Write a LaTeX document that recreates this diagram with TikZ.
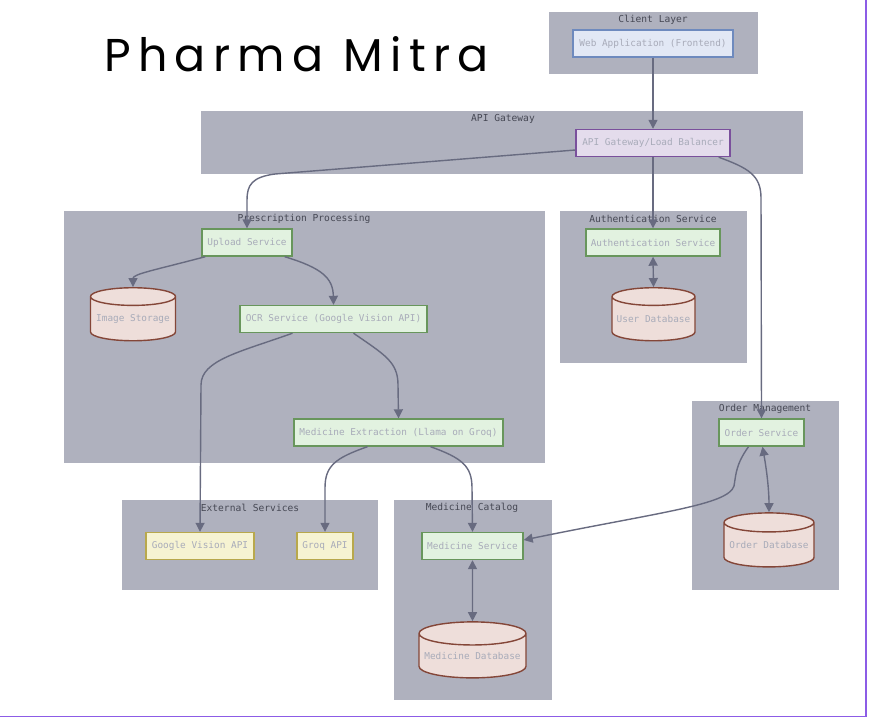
\documentclass[tikz,border=0pt]{standalone}
\usepackage{fontspec}
\setmonofont{DejaVu Sans Mono}
\newfontfamily\titlefont[LetterSpace=16]{Poppins}
\usetikzlibrary{arrows.meta,shapes.geometric}
\definecolor{clfill}{RGB}{175,177,190}
\definecolor{cllabel}{RGB}{70,72,84}
\definecolor{ntext}{RGB}{168,171,185}
\definecolor{edge}{RGB}{104,107,128}
\definecolor{bluefill}{RGB}{226,232,245}
\definecolor{blueline}{RGB}{110,138,190}
\definecolor{purpfill}{RGB}{228,220,236}
\definecolor{purpline}{RGB}{122,80,156}
\definecolor{greenfill}{RGB}{226,242,224}
\definecolor{greenline}{RGB}{104,150,92}
\definecolor{yelfill}{RGB}{246,243,210}
\definecolor{yelline}{RGB}{184,168,76}
\definecolor{dbfill}{RGB}{238,222,218}
\definecolor{dbline}{RGB}{132,70,56}
\definecolor{frame}{RGB}{140,92,230}
\tikzset{
  cluster/.style={fill=clfill, draw=none},
  cltext/.style={font=\ttfamily\fontsize{9.6}{11}\selectfont, text=cllabel, inner sep=0pt},
  svc/.style={draw, line width=1.4pt, font=\ttfamily\fontsize{9.4}{11}\selectfont, text=ntext, inner sep=0pt, minimum height=27pt},
  greensvc/.style={svc, fill=greenfill, draw=greenline},
  yelsvc/.style={svc, fill=yelfill, draw=yelline},
  db/.style={cylinder, shape border rotate=90, aspect=0.24, draw=dbline, fill=dbfill, line width=1.4pt, font=\ttfamily\fontsize{9.4}{11}\selectfont, text=ntext, inner sep=0pt},
  conn/.style={draw=edge, line width=1.4pt, -{Triangle[length=9pt,width=9pt]}},
  biconn/.style={draw=edge, line width=1.4pt, {Triangle[length=9pt,width=9pt]}-{Triangle[length=9pt,width=9pt]}},
}
\begin{document}
\begin{tikzpicture}[x=1pt,y=-1pt]
\useasboundingbox (0,0) rectangle (869,718);
\fill[white] (0,0) rectangle (869,718);
% clusters
\fill[cluster] (549,12) rectangle (758,74);
\node[cltext] (lclient) at (653,20) {Client Layer};
\fill[cluster] (201,111) rectangle (803,174);
\node[cltext] (lapi) at (503,119) {API Gateway};
\fill[cluster] (64,211) rectangle (545,463);
\node[cltext] (lpres) at (304,219) {Prescription Processing};
\fill[cluster] (560,211) rectangle (747,363);
\node[cltext] (lauth) at (653,219) {Authentication Service};
\fill[cluster] (692,401) rectangle (839,590);
\node[cltext] (lorder) at (765,409) {Order Management};
\fill[cluster] (122,500) rectangle (378,590);
\node[cltext] (lext) at (250,508) {External Services};
\fill[cluster] (394,500) rectangle (552,700);
\node[cltext] (lmed) at (472,508) {Medicine Catalog};
% title
\node[font=\titlefont\fontsize{46}{50}\selectfont, anchor=base west, inner sep=0pt] (title) at (104,71) {Pharma Mitra};
% nodes
\node[svc, fill=bluefill, draw=blueline, minimum width=160pt] (web) at (653,43.5) {Web Application (Frontend)};
\node[svc, fill=purpfill, draw=purpline, minimum width=154pt] (api) at (653,143) {API Gateway/Load Balancer};
\node[greensvc, minimum width=90pt] (upload) at (247,242.5) {Upload Service};
\node[db, minimum width=85pt, minimum height=53pt] (img) at (133,319) {Image Storage};
\node[greensvc, minimum width=187pt] (ocr) at (333.5,319) {OCR Service (Google Vision API)};
\node[greensvc, minimum width=209pt] (medext) at (398.5,432.5) {Medicine Extraction (Llama on Groq)};
\node[greensvc, minimum width=134pt] (auth) at (653,242.5) {Authentication Service};
\node[db, minimum width=83pt, minimum height=53pt] (userdb) at (653.5,319) {User Database};
\node[greensvc, minimum width=85pt] (order) at (761.5,432.5) {Order Service};
\node[db, minimum width=90pt, minimum height=54pt] (orderdb) at (769,545) {Order Database};
\node[yelsvc, minimum width=108pt] (google) at (200,546) {Google Vision API};
\node[yelsvc, minimum width=56pt] (groq) at (325,546) {Groq API};
\node[greensvc, minimum width=101pt] (medsvc) at (472.5,546) {Medicine Service};
\node[db, minimum width=107pt, minimum height=56pt] (meddb) at (472.5,656) {Medicine Database};
% connectors
\draw[conn] (web.south) -- (api.north);
\draw[conn] (api.south) -- (auth.north);
\draw[conn] ([yshift=-7pt]api.west) -- (275,174) .. controls (252,177) and (247,185) .. (247,200) -- (upload.north);
\draw[conn] ([xshift=-12pt]api.south east) .. controls (748,168) and (761,175) .. (761,198) -- (order.north);
\draw[conn] ([xshift=4pt]upload.south west) .. controls (155,270) and (133,274) .. (img.north);
\draw[conn] ([xshift=-8pt]upload.south east) .. controls (322,268) and (333,278) .. (ocr.north);
\draw[conn] ([xshift=-41pt]ocr.south) .. controls (240,352) and (201,360) .. (201,385) -- (google.north);
\draw[conn] ([xshift=20pt]ocr.south) .. controls (385,355) and (398,362) .. (398,385) -- (medext.north);
\draw[conn] ([xshift=-31pt]medext.south) .. controls (335,458) and (325,466) .. (325,488) -- (groq.north);
\draw[conn] ([xshift=32pt]medext.south) .. controls (462,458) and (472,466) .. (472,488) -- (medsvc.north);
\draw[conn] ([xshift=-13pt]order.south) .. controls (736,464) and (736,474) .. (734,486) .. controls (728,505) and (660,512) .. ([yshift=6pt]medsvc.east);
\draw[biconn] (auth.south) -- (userdb.north);
\draw[biconn] ([xshift=1pt]order.south) .. controls (768,478) and (769,495) .. (orderdb.north);
\draw[biconn] (medsvc.south) -- (meddb.north);
% frame lines
\draw[frame, line width=1.6pt] (866,0) -- (866,716.5) -- (0,716.5);
\end{tikzpicture}
\end{document}
